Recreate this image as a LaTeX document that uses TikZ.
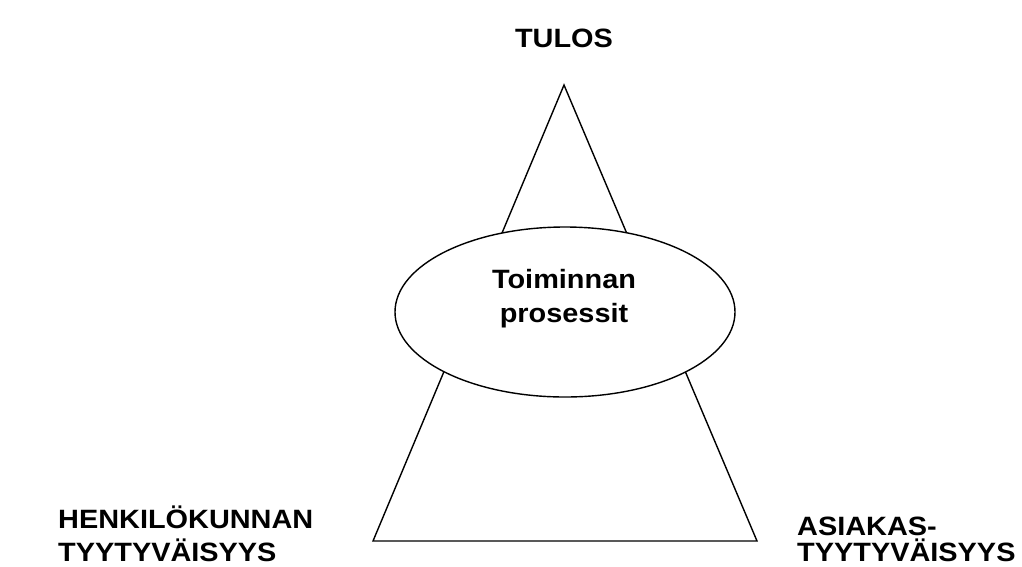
\documentclass[tikz,border=0pt]{standalone}
\usepackage{fontspec}
\setmainfont{Liberation Sans}[FakeStretch=1.09]
\usetikzlibrary{shapes.geometric}
\begin{document}
\begin{tikzpicture}[x=1pt,y=-1pt,
  lbl/.style={font=\fontsize{26.5}{30}\selectfont\bfseries, inner sep=0pt},
  edge/.style={draw=black, line width=1.4pt, line join=miter}]
\useasboundingbox (0,0) rectangle (1022,566);
\fill[white] (0,0) rectangle (1022,566);
\coordinate (apex) at (564,85);
\coordinate (bl) at (373,541);
\coordinate (br) at (757,541);
\draw[edge] (apex) -- (br) -- (bl) -- cycle;
\node[ellipse, draw=black, line width=1.4pt, fill=white, minimum width=340pt, minimum height=170pt, inner sep=0pt] (proc) at (565,312) {};
\node[lbl, anchor=base] (t1) at (564,288) {Toiminnan};
\node[lbl, anchor=base] (t2) at (564,322) {prosessit};
\node[lbl, anchor=base] (tulos) at (564,47) {TULOS};
\node[lbl, anchor=base west] (henk1) at (58,528) {HENKILÖKUNNAN};
\node[lbl, anchor=base west] (henk2) at (58,561) {TYYTYVÄISYYS};
\node[lbl, anchor=base west] (asi1) at (797,535) {ASIAKAS-};
\node[lbl, anchor=base west] (asi2) at (797,561) {TYYTYVÄISYYS};
\end{tikzpicture}
\end{document}
